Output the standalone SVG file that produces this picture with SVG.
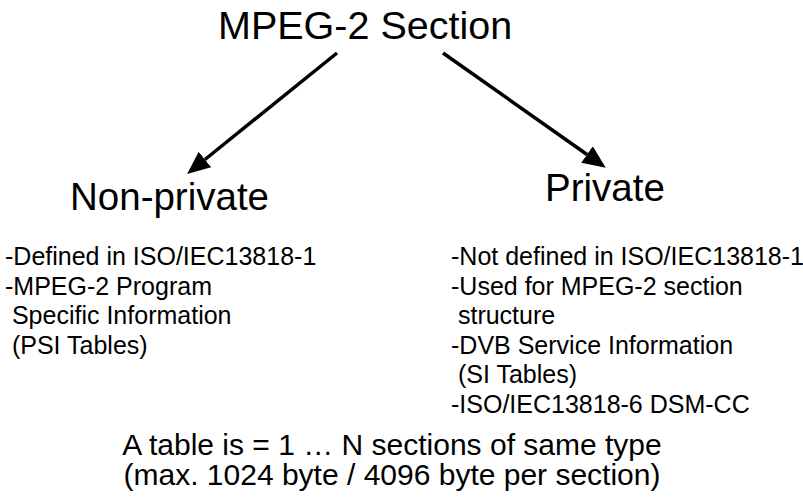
<svg xmlns="http://www.w3.org/2000/svg" width="803" height="497" viewBox="0 0 803 497">
<style>
text{font-family:"Liberation Sans",Arial,sans-serif;fill:#000}
.t{font-size:39.5px}
.h{font-size:38.5px}
.b{font-size:25px}
.f{font-size:30px}
.c{stroke:#000;stroke-width:3.5;fill:none}
</style>
<defs>
<marker id="ah" markerUnits="userSpaceOnUse" markerWidth="24" markerHeight="22" refX="0" refY="10" orient="auto" viewBox="0 0 24 20">
<path d="M0,0 L23,10 L0,20 z" fill="#000"/>
</marker>
</defs>
<rect width="803" height="497" fill="#fff"/>
<g id="connectors">
<line class="c" x1="337" y1="53" x2="205" y2="159.5" marker-end="url(#ah)"/>
<line class="c" x1="443" y1="53" x2="587" y2="154.5" marker-end="url(#ah)"/>
</g>
<g id="root"><text class="t" x="218" y="39">MPEG-2 Section</text></g>
<g id="nonprivate">
<text class="h" x="70" y="210">Non-private</text>
<text class="b" xml:space="preserve"><tspan x="5" y="265">-Defined in ISO/IEC13818-1</tspan><tspan x="5" y="294.5">-MPEG-2 Program</tspan><tspan x="5" y="324"> Specific Information</tspan><tspan x="5" y="353.5"> (PSI Tables)</tspan></text>
</g>
<g id="private">
<text class="h" x="545" y="201">Private</text>
<text class="b" xml:space="preserve"><tspan x="451" y="265">-Not defined in ISO/IEC13818-1</tspan><tspan x="451" y="294.5">-Used for MPEG-2 section</tspan><tspan x="451" y="324"> structure</tspan><tspan x="451" y="353.5">-DVB Service Information</tspan><tspan x="451" y="383"> (SI Tables)</tspan><tspan x="451" y="412.5">-ISO/IEC13818-6 DSM-CC</tspan></text>
</g>
<g id="note">
<text class="f" text-anchor="middle"><tspan x="392" y="455">A table is = 1 … N sections of same type</tspan><tspan x="392" y="485">(max. 1024 byte / 4096 byte per section)</tspan></text>
</g>
</svg>
